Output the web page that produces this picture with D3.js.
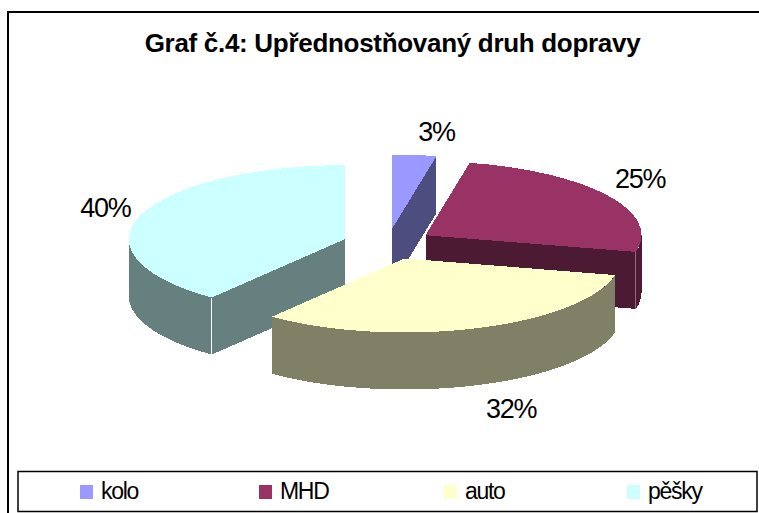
<!DOCTYPE html>
<html>
<head>
<meta charset="utf-8">
<script src="https://cdn.jsdelivr.net/npm/d3@7"></script>
<style>
  html, body { margin: 0; padding: 0; background: #fff; overflow: hidden; }
  svg { display: block; font-family: "Liberation Sans", Arial, sans-serif; }
</style>
</head>
<body>
<div id="chart"></div>
<script>
// Data
const title = "Graf č.4: Upřednostňovaný druh dopravy";
const categories = ["kolo", "MHD", "auto", "pěšky"];
const values = [3, 25, 32, 40];
const colors = ["#9999ff", "#993366", "#ffffcc", "#ccffff"];

const width = 759;
const height = 513;

const svg = d3.select("#chart")
    .append("svg")
    .attr("width", width)
    .attr("height", height);

// Outer frame, runs off the right and bottom of the picture
svg.append("rect")
    .attr("x", 8).attr("y", 12)
    .attr("width", width + 20).attr("height", height + 20)
    .attr("fill", "#fff")
    .attr("stroke", "#000")
    .attr("stroke-width", 2);

svg.append("text")
    .attr("x", 392.5).attr("y", 52)
    .attr("text-anchor", "middle")
    .attr("font-size", 26)
    .attr("font-weight", "bold")
    .attr("letter-spacing", -0.3)
    .text(title);

// Pie geometry
const centerX = 388;
const centerY = 244;
const rx = 216;
const ry = 74;
const depth = 57;
const explode = 0.21;

// The old 3D renderer's perspective pulls the slice edges a little off their true angles
const deg = Math.PI / 180;
const perspective = d3.scaleLinear()
    .domain([0, 10.8, 100.8, 216, 360].map(a => a * deg))
    .range([0, 11.8, 103, 218, 360].map(a => a * deg));

const pie = d3.pie().sort(null).value(d => d.value);
const slices = pie(categories.map((name, i) => ({ name, value: values[i], color: colors[i] })));

slices.forEach(s => {
    const mid = (s.startAngle + s.endAngle) / 2;
    s.cx = centerX + explode * rx * Math.sin(mid);
    s.cy = centerY - explode * ry * Math.cos(mid);
    s.mid = mid;
    s.startAngle = perspective(s.startAngle);
    s.endAngle = perspective(s.endAngle);
});

const onRim = (s, a) => [s.cx + rx * Math.sin(a), s.cy - ry * Math.cos(a)];
const sideColor = c => {
    const rgb = d3.rgb(c);
    return d3.rgb(rgb.r / 2, rgb.g / 2, rgb.b / 2).formatHex();
};

// Part of the outer rim that faces the viewer, as a closed wall
function wallPath(s) {
    const a0 = Math.max(s.startAngle, Math.PI / 2);
    const a1 = Math.min(s.endAngle, Math.PI * 1.5);
    if (a1 <= a0) return null;
    const top = d3.range(a0, a1, 0.01).concat(a1).map(a => onRim(s, a));
    const bottom = top.slice().reverse().map(p => [p[0], p[1] + depth]);
    return d3.line()(top.concat(bottom)) + "Z";
}

// Flat cut face from the slice apex out to the rim at angle a
function cutPath(s, a) {
    const p = onRim(s, a);
    return d3.line()([[s.cx, s.cy], p, [p[0], p[1] + depth], [s.cx, s.cy + depth]]) + "Z";
}

const arc = d3.arc().innerRadius(0).outerRadius(rx);
const pieGroup = svg.append("g").attr("shape-rendering", "crispEdges");

// Back to front: kolo, MHD, pesky, then auto over the others
[0, 1, 3, 2].forEach(i => {
    const s = slices[i];
    const g = pieGroup.append("g");
    const side = sideColor(s.data.color);

    // a cut face shows only if it turns towards the viewer
    if (Math.sin(s.endAngle) > 0) {
        g.append("path").attr("d", cutPath(s, s.endAngle)).attr("fill", side);
    }
    if (Math.sin(s.startAngle) < 0) {
        g.append("path").attr("d", cutPath(s, s.startAngle)).attr("fill", side);
    }
    const wall = wallPath(s);
    if (wall) g.append("path").attr("d", wall).attr("fill", side);

    // thin light line on the corner where a cut face meets the wall
    const corner = i === 3 ? s.startAngle : i === 1 ? s.endAngle : null;
    if (corner !== null) {
        const p = onRim(s, corner);
        g.append("line")
            .attr("x1", p[0]).attr("y1", p[1])
            .attr("x2", p[0]).attr("y2", p[1] + depth)
            .attr("stroke", i === 3 ? "#fff" : "#996680")
            .attr("stroke-width", 1);
    }

    g.append("path")
        .attr("d", arc(s))
        .attr("transform", `translate(${s.cx},${s.cy}) scale(1,${ry / rx})`)
        .attr("fill", s.data.color);
});

// Percent labels, nudged away from the rim point at mid angle
const labelNudge = [[24, -23], [36, -15], [27, 82], [-34, -8]];

svg.append("g")
    .selectAll("text")
    .data(slices)
    .join("text")
    .attr("x", (d, i) => onRim(d, d.mid)[0] + labelNudge[i][0])
    .attr("y", (d, i) => onRim(d, d.mid)[1] + labelNudge[i][1] + 9)
    .attr("text-anchor", "middle")
    .attr("font-size", 27)
    .attr("letter-spacing", -1.2)
    .text(d => d.data.value + "%");

// Legend
svg.append("rect")
    .attr("x", 18).attr("y", 471.5)
    .attr("width", 739).attr("height", 40)
    .attr("fill", "#fff")
    .attr("stroke", "#000")
    .attr("stroke-width", 1.5);

const legendX = d3.scaleOrdinal()
    .domain(categories)
    .range([80, 259, 444, 627]);

const legend = svg.append("g")
    .selectAll("g")
    .data(slices)
    .join("g")
    .attr("transform", d => `translate(${legendX(d.data.name)},485)`);

legend.append("rect")
    .attr("width", 13)
    .attr("height", 14)
    .attr("fill", d => d.data.color);

legend.append("text")
    .attr("x", 21)
    .attr("y", 13.5)
    .attr("font-size", 23)
    .attr("letter-spacing", -1.3)
    .text(d => d.data.name);
</script>
</body>
</html>
